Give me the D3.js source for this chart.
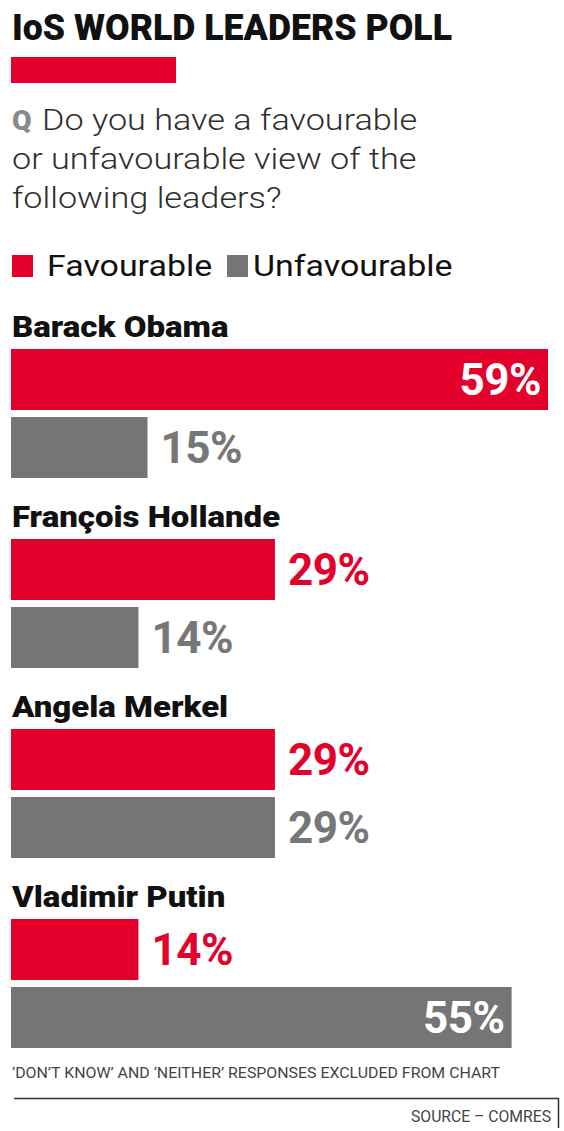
<!DOCTYPE html>
<html>
<head>
<meta charset="utf-8">
<script src="https://cdn.jsdelivr.net/npm/d3@7"></script>
<style>
  html, body { margin: 0; padding: 0; background: #fff; }
  svg { display: block; }
</style>
</head>
<body>
<script>
// ---- data ----
const leaders = ["Barack Obama", "François Hollande", "Angela Merkel", "Vladimir Putin"];
const series = ["Favourable", "Unfavourable"];
const favourable = [59, 29, 29, 14];
const unfavourable = [15, 14, 29, 55];
const titleText = "IoS WORLD LEADERS POLL";
const questionLines = ["Do you have a favourable", "or unfavourable view of the", "following leaders?"];
const footnote = "\u2018DON\u2019T KNOW\u2019 AND \u2018NEITHER\u2019 RESPONSES EXCLUDED FROM CHART";
const sourceText = "SOURCE \u2013 COMRES";

// ---- setup ----
const W = 564, H = 1131;
const RED = "#e3002b", GREY = "#757575";
const colors = { Favourable: RED, Unfavourable: GREY };
const labelColors = { Favourable: RED, Unfavourable: "#777777" };
const font = "Roboto, 'Open Sans', sans-serif";

const svg = d3.select("body").append("svg").attr("width", W).attr("height", H);

// text placed at (x,y) and stretched horizontally by sx
function stretchedText(parent, x, y, sx) {
  return parent.append("text")
    .attr("transform", `translate(${x},${y}) scale(${sx},1)`)
    .attr("font-family", font);
}

// Title
svg.append("text")
  .attr("x", 12).attr("y", 40)
  .attr("font-family", font).attr("font-weight", 900).attr("font-size", 37)
  .attr("textLength", 440).attr("lengthAdjust", "spacingAndGlyphs")
  .attr("fill", "#111")
  .text(titleText);

// Red rule under title
svg.append("rect").attr("x", 11).attr("y", 57).attr("width", 165).attr("height", 26).attr("fill", RED);

// Question
stretchedText(svg, 12, 130, 1.05)
  .attr("font-weight", 900).attr("font-size", 27)
  .attr("fill", "#8a8a8a").text("Q");
questionLines.forEach((line, i) => {
  stretchedText(svg, i === 0 ? 42 : 12, 130 + i * 39, 1.18)
    .attr("font-weight", 300).attr("font-size", 29)
    .attr("fill", "#2e2e2e").text(line);
});

// Legend
const legendX = { Favourable: 12, Unfavourable: 227 };
const legendTextX = { Favourable: 47, Unfavourable: 253 };
series.forEach(s => {
  svg.append("rect").attr("x", legendX[s]).attr("y", 255).attr("width", 21).attr("height", 22).attr("fill", colors[s]);
  stretchedText(svg, legendTextX[s], 276, 1.17)
    .attr("font-weight", 400).attr("font-size", 29)
    .attr("fill", "#111").text(s);
});

// Scales
const x = d3.scaleLinear().domain([0, 59]).range([11, 548]);
const y = d3.scaleBand().domain(leaders).range([349, 349 + 190 * 4]).paddingInner(0).paddingOuter(0);
const ySub = d3.scaleBand().domain(series).range([0, 129]).paddingInner(2 - 129 / 68);

const rows = leaders.map((name, i) => ({ name, values: [
  { series: "Favourable", value: favourable[i] },
  { series: "Unfavourable", value: unfavourable[i] }
]}));

const groups = svg.selectAll("g.leader").data(rows).join("g")
  .attr("class", "leader")
  .attr("transform", d => `translate(0,${y(d.name)})`);

groups.each(function(d) {
  stretchedText(d3.select(this), 12, -12, 1.1)
    .attr("font-weight", 900).attr("font-size", 30)
    .attr("fill", "#111")
    .text(d.name);
});

const bars = groups.selectAll("g.bar").data(d => d.values).join("g").attr("class", "bar");

bars.append("rect")
  .attr("x", x(0))
  .attr("y", d => ySub(d.series))
  .attr("width", d => x(d.value) - x(0))
  .attr("height", ySub.bandwidth())
  .attr("fill", d => colors[d.series]);

const inside = d => d.value > 40;
bars.append("text")
  .attr("x", d => inside(d) ? x(d.value) - 7 : x(d.value) + 13)
  .attr("y", d => ySub(d.series) + ySub.bandwidth() / 2)
  .attr("dy", "0.36em")
  .attr("text-anchor", d => inside(d) ? "end" : "start")
  .attr("font-family", font).attr("font-weight", 700).attr("font-size", 44)
  .attr("letter-spacing", -0.5)
  .attr("fill", d => inside(d) ? "#fff" : labelColors[d.series])
  .text(d => d.value + "%");

// Footnote
svg.append("text")
  .attr("x", 12).attr("y", 1078)
  .attr("font-family", font).attr("font-weight", 400).attr("font-size", 15)
  .attr("textLength", 488).attr("lengthAdjust", "spacingAndGlyphs")
  .attr("fill", "#444").text(footnote);

// Source rule
svg.append("path")
  .attr("d", "M14,1098.5H558.5V1128")
  .attr("fill", "none").attr("stroke", "#333").attr("stroke-width", 1.5);

svg.append("text")
  .attr("x", 551).attr("y", 1122)
  .attr("text-anchor", "end")
  .attr("font-family", font).attr("font-weight", 400).attr("font-size", 16)
  .attr("textLength", 140).attr("lengthAdjust", "spacingAndGlyphs")
  .attr("fill", "#444").text(sourceText);
</script>
</body>
</html>
